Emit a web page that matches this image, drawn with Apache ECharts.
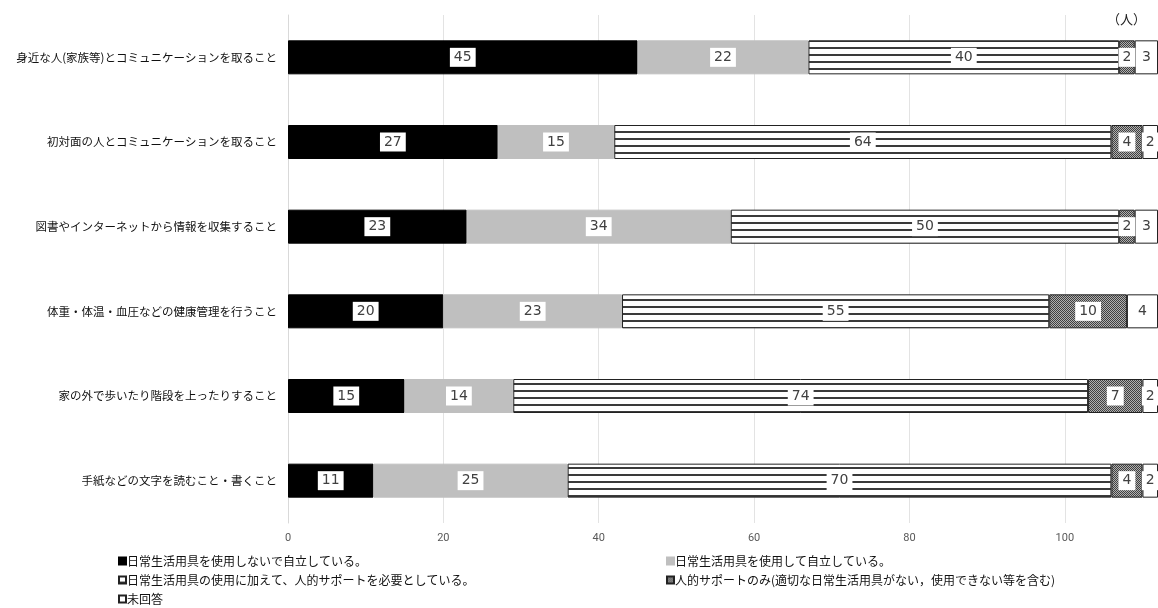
<!DOCTYPE html>
<html><head><meta charset="utf-8">
<script src="https://cdn.jsdelivr.net/npm/echarts@6/dist/echarts.min.js"></script>
<style>html,body{margin:0;padding:0;background:#fff}#c{width:1158px;height:608px}</style>
</head><body><div id="c"></div>
<script>
var categories = ['身近な人(家族等)とコミュニケーションを取ること','初対面の人とコミュニケーションを取ること','図書やインターネットから情報を収集すること','体重・体温・血圧などの健康管理を行うこと','家の外で歩いたり階段を上ったりすること','手紙などの文字を読むこと・書くこと'];
var seriesNames = ['日常生活用具を使用しないで自立している。','日常生活用具を使用して自立している。','日常生活用具の使用に加えて、人的サポートを必要としている。','人的サポートのみ(適切な日常生活用具がない，使用できない等を含む)','未回答'];
var independentNoTool = [45,27,23,20,15,11];
var independentTool = [22,15,34,23,14,25];
var toolPlusSupport = [40,64,50,55,74,70];
var supportOnly = [2,4,2,10,7,4];
var noAnswer = [3,2,3,4,2,2];
var xTicks = [0,20,40,60,80,100];

function stripeCanvas(){
  var c=document.createElement('canvas');c.width=4;c.height=7;
  var g=c.getContext('2d');g.fillStyle='#fff';g.fillRect(0,0,4,7);
  g.fillStyle='#3a3a3a';g.fillRect(0,5,4,2);return c;
}
function dotCanvas(){
  var c=document.createElement('canvas');c.width=2;c.height=2;
  var g=c.getContext('2d');g.fillStyle='#b0b0b0';g.fillRect(0,0,2,2);
  g.fillStyle='#404040';g.fillRect(0,0,1,1);g.fillRect(1,1,1,1);return c;
}
var stripe={image:stripeCanvas(),repeat:'repeat'};
var dots={image:dotCanvas(),repeat:'repeat'};

var chart=echarts.init(document.getElementById('c'));
var font='"Noto Sans CJK JP", sans-serif';
var lbl={show:true,position:'inside',color:'#404040',fontSize:14,fontFamily:'"DejaVu Sans", sans-serif',backgroundColor:'#fff',padding:[3,4,2,4]};
function mk(i,data,color,border){
  return {name:seriesNames[i],type:'bar',stack:'t',data:data,barWidth:34,
    itemStyle:{color:color,borderColor:border,borderWidth:1},label:lbl,
    emphasis:{disabled:true}};
}
function lg(i,left,top){
  return {data:[seriesNames[i]],orient:'horizontal',left:left,top:top,padding:0,itemWidth:7,itemHeight:7,icon:'rect',
    textStyle:{fontSize:12,color:'#111',fontFamily:font,padding:[0,0,0,-4]},selectedMode:false};
}
chart.setOption({
  animation:false,
  textStyle:{fontFamily:font},
  grid:{left:288,right:0,top:15,bottom:85,outerBoundsMode:'none',containLabel:false},
  legend:[lg(0,118,555),lg(2,118,574),lg(4,118,593),lg(1,666,555),lg(3,666,574)],
  xAxis:{type:'value',min:xTicks[0],max:112,interval:20,
    axisLine:{show:false},axisTick:{show:false},
    splitLine:{lineStyle:{color:'#e3e3e3'}},
    axisLabel:{showMaxLabel:false,color:'#595959',fontSize:11,margin:10,fontFamily:'Roboto, sans-serif'}},
  yAxis:{type:'category',data:categories,inverse:true,
    axisLine:{lineStyle:{color:'#d9d9d9'}},axisTick:{show:false},
    axisLabel:{color:'#111',fontSize:11.5,margin:11,fontFamily:font}},
  graphic:[{type:'text',right:12,top:13,style:{text:'（人）',fill:'#222',font:'13px "Noto Sans CJK JP"'}}],
  series:[
    mk(0,independentNoTool,'#000','#000'),
    mk(1,independentTool,'#bfbfbf','#bfbfbf'),
    mk(2,toolPlusSupport,stripe,'#222'),
    mk(3,supportOnly,dots,'#222'),
    mk(4,noAnswer,'#fff','#222')
  ]
});
</script></body></html>
